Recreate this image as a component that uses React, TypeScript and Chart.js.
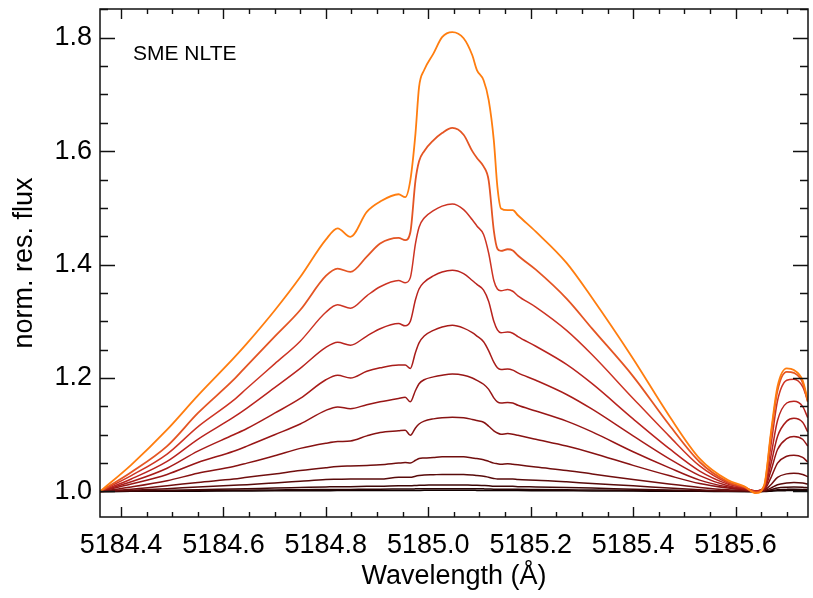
import React, { useEffect, useRef } from 'react';
import { Chart, registerables } from 'chart.js';

Chart.register(...registerables);

// Wavelength grid (Å)
const wavelengths = [
  5184.359, 5184.42, 5184.49, 5184.55, 5184.62, 5184.646, 5184.70, 5184.75, 5184.80, 5184.823,
  5184.848, 5184.88, 5184.906, 5184.942, 5184.955, 5184.965, 5184.975, 5184.982, 5184.992, 5185.01,
  5185.027, 5185.047, 5185.069, 5185.086, 5185.095, 5185.108, 5185.118, 5185.128, 5185.135, 5185.142,
  5185.155, 5185.165, 5185.175, 5185.21, 5185.27, 5185.32, 5185.40, 5185.47, 5185.53, 5185.585,
  5185.617, 5185.64, 5185.656, 5185.669, 5185.682, 5185.70, 5185.714, 5185.731, 5185.741,
];

const flux01 = [1.000,1.047,1.109,1.169,1.235,1.261,1.319,1.378,1.444,1.464,1.449,1.493,1.511,1.524,1.519,1.549,1.631,1.713,1.743,1.772,1.801,1.810,1.799,1.769,1.743,1.725,1.690,1.619,1.537,1.499,1.496,1.496,1.487,1.458,1.403,1.341,1.234,1.134,1.058,1.020,1.009,0.997,1.011,1.103,1.185,1.217,1.214,1.196,1.161];
const flux02 = [1.000,1.034,1.080,1.138,1.197,1.222,1.273,1.320,1.380,1.393,1.387,1.414,1.437,1.447,1.443,1.457,1.548,1.582,1.600,1.619,1.632,1.641,1.629,1.600,1.588,1.573,1.548,1.460,1.428,1.424,1.427,1.425,1.416,1.391,1.340,1.287,1.203,1.118,1.052,1.017,1.008,0.999,1.010,1.098,1.178,1.211,1.209,1.192,1.158];
const flux03 = [1.000,1.028,1.066,1.114,1.161,1.182,1.225,1.265,1.316,1.329,1.323,1.345,1.361,1.372,1.368,1.377,1.437,1.466,1.482,1.495,1.503,1.507,1.497,1.479,1.468,1.453,1.420,1.372,1.357,1.354,1.356,1.353,1.345,1.325,1.284,1.241,1.164,1.098,1.045,1.015,1.007,1.000,1.008,1.080,1.160,1.196,1.198,1.185,1.160];
const flux04 = [1.000,1.022,1.053,1.092,1.131,1.147,1.183,1.217,1.254,1.263,1.258,1.274,1.287,1.296,1.292,1.300,1.338,1.357,1.369,1.380,1.387,1.390,1.384,1.372,1.365,1.355,1.335,1.300,1.285,1.280,1.281,1.279,1.273,1.256,1.224,1.190,1.128,1.076,1.036,1.013,1.006,1.001,1.007,1.062,1.125,1.156,1.159,1.150,1.130];
const flux05 = [1.000,1.017,1.041,1.071,1.100,1.111,1.138,1.164,1.197,1.205,1.200,1.212,1.218,1.223,1.223,1.217,1.245,1.262,1.274,1.284,1.290,1.293,1.288,1.280,1.274,1.264,1.248,1.228,1.218,1.215,1.216,1.214,1.209,1.196,1.171,1.145,1.098,1.058,1.028,1.010,1.005,1.001,1.005,1.048,1.097,1.124,1.129,1.122,1.105];
const flux06 = [1.000,1.013,1.030,1.051,1.071,1.080,1.100,1.119,1.143,1.149,1.146,1.153,1.158,1.164,1.166,1.158,1.178,1.190,1.197,1.202,1.205,1.207,1.205,1.200,1.196,1.189,1.180,1.165,1.158,1.156,1.157,1.156,1.152,1.142,1.124,1.105,1.070,1.042,1.020,1.008,1.004,1.001,1.004,1.036,1.074,1.093,1.097,1.092,1.080];
const flux07 = [1.000,1.008,1.019,1.032,1.044,1.050,1.063,1.076,1.085,1.088,1.089,1.098,1.104,1.107,1.108,1.099,1.112,1.119,1.124,1.128,1.130,1.131,1.130,1.127,1.125,1.122,1.115,1.107,1.103,1.101,1.102,1.101,1.099,1.092,1.080,1.068,1.046,1.028,1.014,1.006,1.003,1.001,1.003,1.024,1.050,1.062,1.064,1.060,1.052];
const flux08 = [1.000,1.004,1.010,1.016,1.022,1.025,1.031,1.037,1.042,1.044,1.045,1.046,1.047,1.050,1.051,1.050,1.055,1.058,1.059,1.060,1.061,1.061,1.061,1.059,1.058,1.056,1.053,1.050,1.049,1.048,1.049,1.048,1.047,1.043,1.037,1.031,1.021,1.013,1.007,1.003,1.002,1.000,1.002,1.012,1.025,1.031,1.032,1.030,1.026];
const flux09 = [1.000,1.002,1.005,1.008,1.011,1.012,1.015,1.018,1.021,1.0215,1.022,1.022,1.022,1.025,1.025,1.025,1.027,1.028,1.029,1.0295,1.030,1.030,1.030,1.029,1.028,1.027,1.025,1.023,1.022,1.022,1.022,1.022,1.021,1.020,1.017,1.014,1.010,1.006,1.003,1.001,1.001,1.000,1.001,1.006,1.012,1.015,1.016,1.015,1.013];
const flux10 = [1.000,1.001,1.002,1.003,1.0045,1.005,1.006,1.007,1.008,1.0085,1.0085,1.009,1.009,1.010,1.010,1.010,1.0105,1.011,1.011,1.0115,1.0115,1.0115,1.0115,1.011,1.011,1.0105,1.010,1.009,1.009,1.009,1.009,1.009,1.0085,1.008,1.007,1.006,1.004,1.0025,1.0012,1.0005,1.0003,1.000,1.0005,1.003,1.006,1.0075,1.008,1.0075,1.0065];
const flux11 = [1.000,1.0005,1.001,1.0015,1.002,1.0022,1.0027,1.003,1.0035,1.0037,1.0037,1.004,1.004,1.0043,1.0044,1.0044,1.0046,1.0048,1.0049,1.005,1.005,1.005,1.005,1.0049,1.0048,1.0046,1.0044,1.004,1.004,1.004,1.004,1.004,1.0038,1.0035,1.003,1.0026,1.0018,1.0011,1.0006,1.0002,1.0001,1.000,1.0002,1.0014,1.003,1.0037,1.004,1.0037,1.0032];
const flux12 = [1.000,1.0002,1.0004,1.0006,1.0008,1.0009,1.0011,1.0012,1.0014,1.0015,1.0015,1.0016,1.0016,1.0017,1.0018,1.0018,1.0018,1.0019,1.002,1.002,1.002,1.002,1.002,1.002,1.0019,1.0018,1.0018,1.0016,1.0016,1.0016,1.0016,1.0016,1.0015,1.0014,1.0012,1.001,1.0007,1.0004,1.0002,1.0001,1.000,1.000,1.0001,1.0006,1.0012,1.0015,1.0016,1.0015,1.0013];

const fluxSeries = [flux01, flux02, flux03, flux04, flux05, flux06, flux07, flux08, flux09, flux10, flux11, flux12];
const seriesColors = [
  'rgb(255,125,15)', 'rgb(228,85,35)', 'rgb(205,52,35)', 'rgb(185,35,30)',
  'rgb(168,28,25)', 'rgb(152,22,22)', 'rgb(135,18,18)', 'rgb(112,14,14)',
  'rgb(88,10,10)', 'rgb(62,6,6)', 'rgb(38,3,3)', 'rgb(15,0,0)',
];

const xTickValues = [5184.4, 5184.6, 5184.8, 5185.0, 5185.2, 5185.4, 5185.6];
const xTickLabels = ['5184.4', '5184.6', '5184.8', '5185.0', '5185.2', '5185.4', '5185.6'];
const yTickValues = [1.0, 1.2, 1.4, 1.6, 1.8];
const yTickLabels = ['1.0', '1.2', '1.4', '1.6', '1.8'];
const xAxisTitle = 'Wavelength (Å)';
const yAxisTitle = 'norm. res. flux';
const annotationText = 'SME NLTE';

const FONT = '"Liberation Sans", Arial, Helvetica, sans-serif';

const framePlugin = {
  id: 'idlFrame',
  afterDatasetsDraw(chart: any) {
    const { ctx, chartArea: a, scales } = chart;
    const x = scales.x;
    const y = scales.y;
    ctx.save();
    ctx.strokeStyle = '#111';
    ctx.lineWidth = 1.5;
    ctx.strokeRect(a.left, a.top, a.right - a.left, a.bottom - a.top);
    ctx.lineWidth = 1.4;
    ctx.beginPath();
    const xk0 = Math.ceil(x.min / 0.05 - 1e-6);
    const xk1 = Math.floor(x.max / 0.05 + 1e-6);
    for (let k = xk0; k <= xk1; k++) {
      const major = k % 4 === 0;
      const len = major ? 10 : 5;
      const px = Math.round(x.getPixelForValue(k * 0.05)) + 0.5;
      ctx.moveTo(px, a.bottom);
      ctx.lineTo(px, a.bottom - len);
      ctx.moveTo(px, a.top);
      ctx.lineTo(px, a.top + len);
    }
    const yk0 = Math.ceil(y.min / 0.05 - 1e-6);
    const yk1 = Math.floor(y.max / 0.05 + 1e-6);
    for (let k = yk0; k <= yk1; k++) {
      const major = k % 4 === 0;
      const len = major ? 15 : 8;
      const py = Math.round(y.getPixelForValue(k * 0.05)) + 0.5;
      ctx.moveTo(a.left, py);
      ctx.lineTo(a.left + len, py);
      ctx.moveTo(a.right, py);
      ctx.lineTo(a.right - len, py);
    }
    ctx.stroke();
    ctx.fillStyle = '#000';
    ctx.font = `21px ${FONT}`;
    ctx.textBaseline = 'alphabetic';
    ctx.textAlign = 'left';
    ctx.fillText(annotationText, a.left + 33, a.top + 51);
    ctx.restore();
  },
};

export default function App() {
  const canvasRef = useRef<HTMLCanvasElement | null>(null);

  useEffect(() => {
    const canvas = canvasRef.current;
    if (!canvas) return;
    const datasets = fluxSeries.map((series, i) => ({
      label: `curve ${i + 1}`,
      data: wavelengths.map((w, j) => ({ x: w, y: series[j] })),
      borderColor: seriesColors[i],
      backgroundColor: seriesColors[i],
      borderWidth: i < 2 ? 1.8 : 1.5,
      pointRadius: 0,
      fill: false,
      cubicInterpolationMode: 'monotone' as const,
    }));

    const chart = new Chart(canvas, {
      type: 'line',
      data: { datasets },
      options: {
        animation: false,
        responsive: false,
        maintainAspectRatio: false,
        layout: { padding: { top: 9, right: 5, left: 0, bottom: 0 } },
        plugins: {
          legend: { display: false },
          tooltip: { enabled: false },
        },
        scales: {
          x: {
            type: 'linear',
            min: 5184.359,
            max: 5185.7415,
            afterBuildTicks: (scale: any) => {
              scale.ticks = xTickValues.map((value) => ({ value }));
            },
            afterFit: (scale: any) => {
              scale.height = 81;
              scale.paddingLeft = 0;
              scale.paddingRight = 0;
              scale.paddingTop = 0;
              scale.paddingBottom = 0;
            },
            ticks: {
              callback: (_v: any, index: number) => xTickLabels[index],
              font: { family: FONT, size: 27 },
              color: '#000',
              padding: 12,
              maxRotation: 0,
              autoSkip: false,
            },
            grid: { display: false, drawTicks: false },
            border: { display: false },
            title: {
              display: true,
              text: xAxisTitle,
              font: { family: FONT, size: 27 },
              color: '#000',
              padding: { top: 0, bottom: 5 },
            },
          },
          y: {
            type: 'linear',
            min: 0.955,
            max: 1.8506,
            afterBuildTicks: (scale: any) => {
              scale.ticks = yTickValues.map((value) => ({ value }));
            },
            afterFit: (scale: any) => {
              scale.width = 100;
              scale.paddingLeft = 0;
              scale.paddingRight = 0;
              scale.paddingTop = 0;
              scale.paddingBottom = 0;
            },
            ticks: {
              callback: (_v: any, index: number) => yTickLabels[index],
              font: { family: FONT, size: 27 },
              color: '#000',
              padding: 8,
              autoSkip: false,
            },
            grid: { display: false, drawTicks: false },
            border: { display: false },
            title: {
              display: true,
              text: yAxisTitle,
              font: { family: FONT, size: 27 },
              color: '#000',
              padding: { top: 8, bottom: 0 },
            },
          },
        },
      },
      plugins: [framePlugin],
    });
    return () => chart.destroy();
  }, []);

  return (
    <div style={{ position: 'absolute', left: 0, top: 0, width: 813, height: 598, background: '#fff' }}>
      <canvas ref={canvasRef} width={813} height={598} style={{ display: 'block' }} />
    </div>
  );
}
